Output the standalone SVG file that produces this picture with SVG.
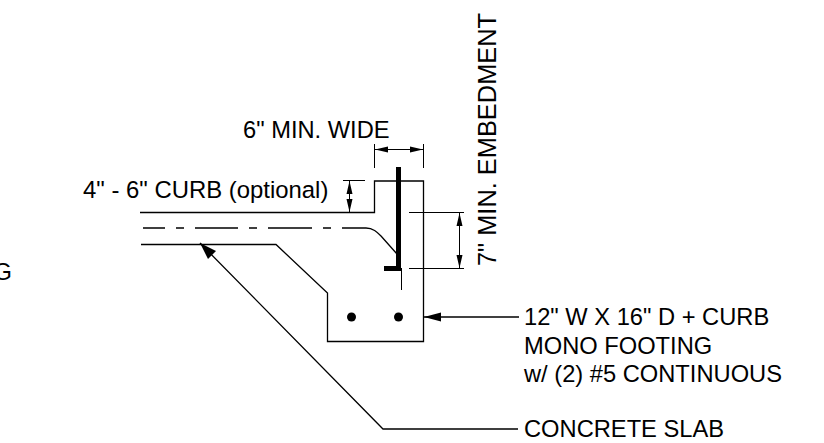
<svg xmlns="http://www.w3.org/2000/svg" width="824" height="443" viewBox="0 0 824 443">
<style>
.l{fill:none;stroke:#000;stroke-width:1.3}
.t{fill:none;stroke:#000;stroke-width:1}
.h{fill:#000;stroke:none}
text{font-family:"Liberation Sans",Arial,sans-serif;font-size:23.7px;fill:#000}
</style>
<rect width="824" height="443" fill="#fff"/>
<g id="section">
<path class="l" d="M140 212.500H374.500V181H423.500V341.500H327.500V293L276 244.500H141"/>
<path class="l" d="M143 228H165M176 228H184M195 228H238M249 228H257M268 228H312M323 228H331M342 228H366C373 228 377 232 381 236L397 254"/>
<path d="M398.500 167V269" fill="none" stroke="#000" stroke-width="5"/>
<path d="M384 268.500H401" fill="none" stroke="#000" stroke-width="5"/>
<path class="t" d="M401.500 268V290"/>
<circle cx="351.500" cy="317" r="4.500" class="h"/>
<circle cx="398.500" cy="317" r="4.500" class="h"/>
</g>
<g id="connectors">
<path class="t" d="M374.500 144V168M423.500 144V168M375 149.500H423"/>
<path class="h" d="M375 149.500L388 146.500V152.500ZM423 149.500L410 146.500V152.500Z"/>
<path class="t" d="M343 180.500H365M349.500 181V212"/>
<path class="h" d="M349.500 181L346.500 194H352.500ZM349.500 212L346.500 199H352.500Z"/>
<path class="t" d="M409 212.500H464M409 268.500H464M459.500 213V268"/>
<path class="h" d="M459.500 213L456.500 226H462.500ZM459.500 268L456.500 255H462.500Z"/>
<path class="l" d="M424 317H519"/>
<path class="h" d="M424 317L441 312.500V321.500Z"/>
<path class="l" d="M200 243L383 429H518"/>
<path class="h" d="M200 243L216 251L208 259Z"/>
</g>
<g id="labels">
<text x="243" y="138">6" MIN. WIDE</text>
<text x="83" y="197.500" style="font-size:23.9px">4" - 6" CURB (optional)</text>
<text transform="translate(496 266) rotate(-90)" style="font-size:25.4px">7" MIN. EMBEDMENT</text>
<text x="-6.500" y="280">G</text>
<text x="524" y="325">12" W X 16" D + CURB</text>
<text x="524" y="354">MONO FOOTING</text>
<text x="524" y="382">w/ (2) #5 CONTINUOUS</text>
<text x="524" y="437">CONCRETE SLAB</text>
</g>
</svg>
